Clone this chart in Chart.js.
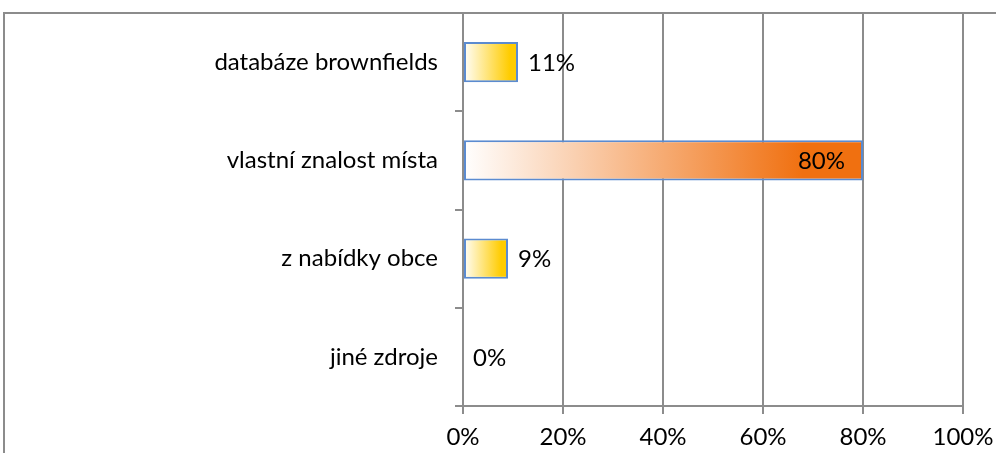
<!DOCTYPE html>
<html>
<head>
<meta charset="utf-8">
<script src="https://cdn.jsdelivr.net/npm/chart.js@4"></script>
<style>
  html, body { margin: 0; padding: 0; background: #fff; }
  #wrap { width: 996px; height: 453px; }
</style>
</head>
<body>
<div id="wrap"><canvas id="graf" width="996" height="453"></canvas></div>
<script>
// kategorie a podíly (%)
const kategorie = ["databáze brownfields", "vlastní znalost místa", "z nabídky obce", "jiné zdroje"];
const podily = [11, 80, 9, 0];
const popiskyOsy = ["0%", "20%", "40%", "60%", "80%", "100%"];
// barva konce přechodu u každého sloupce
const barvyKonce = ["#FFCC00", "#F07010", "#FFCC00", "#FFCC00"];

const pismo = "Lato, 'Open Sans', sans-serif";
const velikost = 24;

// rámeček kolem celého grafu
const ramecek = {
  id: "ramecek",
  beforeDraw(chart) {
    const ctx = chart.ctx;
    ctx.save();
    ctx.strokeStyle = "#8c8c8c";
    ctx.lineWidth = 2;
    ctx.beginPath();
    ctx.moveTo(4, chart.height + 2);
    ctx.lineTo(4, 13);
    ctx.lineTo(chart.width + 2, 13);
    ctx.stroke();
    ctx.restore();
  }
};

// popisky hodnot u sloupců
const popisky = {
  id: "popisky",
  afterDatasetsDraw(chart) {
    const ctx = chart.ctx;
    const meta = chart.getDatasetMeta(0);
    ctx.save();
    ctx.font = velikost + "px " + pismo;
    ctx.fillStyle = "#000";
    ctx.textBaseline = "middle";
    meta.data.forEach((bar, i) => {
      const text = podily[i] + "%";
      if (podily[i] > 50) {
        ctx.textAlign = "right";
        ctx.fillText(text, bar.x - 18, bar.y + 1);
      } else {
        ctx.textAlign = "left";
        ctx.fillText(text, bar.x + 10, bar.y + 1);
      }
    });
    ctx.restore();
  }
};

function prechod(context) {
  const chart = context.chart;
  const i = context.dataIndex;
  if (!chart.chartArea || !chart.scales.x) return barvyKonce[i];
  const x0 = chart.scales.x.getPixelForValue(0);
  const x1 = chart.scales.x.getPixelForValue(podily[i]);
  if (x1 - x0 < 1) return barvyKonce[i];
  const g = chart.ctx.createLinearGradient(x0, 0, x1, 0);
  g.addColorStop(0, "#ffffff");
  g.addColorStop(0.85, barvyKonce[i]);
  g.addColorStop(1, barvyKonce[i]);
  return g;
}

new Chart(document.getElementById("graf"), {
  type: "bar",
  data: {
    labels: kategorie,
    datasets: [{
      data: podily,
      backgroundColor: prechod,
      borderColor: "#5b8bd0",
      borderWidth: 2,
      borderSkipped: false,
      barPercentage: 0.41,
      categoryPercentage: 1
    }]
  },
  options: {
    indexAxis: "y",
    responsive: false,
    animation: false,
    layout: { padding: { top: 13, right: 33, left: 0, bottom: 0 } },
    plugins: { legend: { display: false }, tooltip: { enabled: false } },
    scales: {
      x: {
        min: 0,
        max: 100,
        afterBuildTicks(scale) {
          scale.ticks = popiskyOsy.map((t, i) => ({ value: i * 20 }));
        },
        afterFit(scale) {
          scale.height = 47;
          scale.paddingLeft = 0;
          scale.paddingRight = 0;
        },
        grid: { color: "#8c8c8c", lineWidth: 2, tickLength: 8 },
        border: { color: "#8c8c8c", width: 2 },
        ticks: {
          color: "#000",
          font: { size: velikost, family: pismo },
          padding: 9,
          maxRotation: 0,
          callback: (v, i) => popiskyOsy[i]
        }
      },
      y: {
        z: 1,
        afterFit(scale) {
          scale.width = 463;
          scale.paddingTop = 0;
          scale.paddingBottom = 0;
        },
        grid: { offset: true, drawOnChartArea: false, color: "#8c8c8c", lineWidth: 2, tickLength: 8 },
        border: { color: "#8c8c8c", width: 2 },
        ticks: {
          color: "#000",
          font: { size: velikost, family: pismo },
          padding: 17
        }
      }
    }
  },
  plugins: [ramecek, popisky]
});
</script>
</body>
</html>
